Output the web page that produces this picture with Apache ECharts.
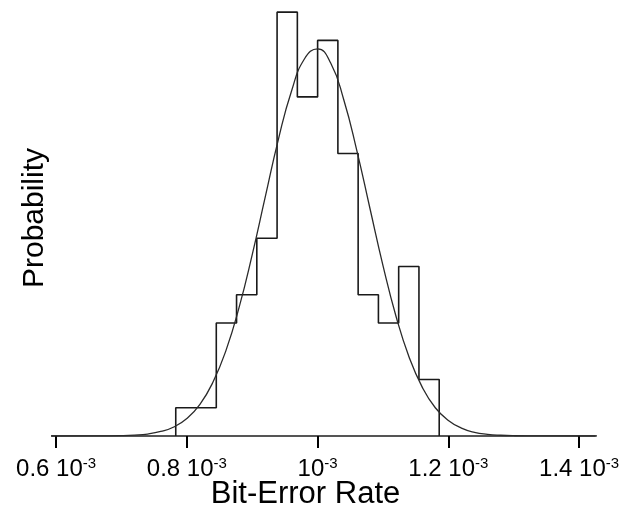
<!DOCTYPE html>
<html>
<head>
<meta charset="utf-8">
<script src="https://cdn.jsdelivr.net/npm/echarts@6/dist/echarts.min.js"></script>
<style>
  html, body { margin: 0; padding: 0; background: #fff; }
  #main { width: 630px; height: 508px; }
</style>
</head>
<body>
<div id="main"></div>
<script>
// x values in units of 10^-3
const tickValues = [0.6, 0.8, 1.0, 1.2, 1.4]
const tickLabels = ['0.6 10', '0.8 10', '10', '1.2 10', '1.4 10']

// histogram: first bin start, bin width, counts per bin
const binStart = 0.783
const binWidth = 0.031
const counts = [1, 1, 4, 5, 7, 15, 12, 14, 10, 5, 4, 6, 2]

// fitted curve
const curveX = [0.59, 0.66, 0.70, 0.72, 0.74, 0.76, 0.78, 0.80, 0.82, 0.84, 0.86, 0.88, 0.90, 0.92, 0.94, 0.96, 0.98,
  1.00, 1.02, 1.04, 1.06, 1.08, 1.10, 1.12, 1.14, 1.16, 1.18, 1.20, 1.22, 1.24, 1.26, 1.28, 1.30, 1.34, 1.43]
const curveY = [0, 0.002, 0.012, 0.03, 0.07, 0.16, 0.32, 0.62, 1.12, 1.91, 3.04, 4.56, 6.42, 8.47, 10.5, 12.2, 13.35,
  13.7, 13.2, 11.9, 10.1, 8.06, 6.03, 4.23, 2.79, 1.73, 1.0, 0.55, 0.28, 0.13, 0.06, 0.026, 0.01, 0.001, 0]

// step outline of the histogram
let histData = [[binStart, 0]]
counts.forEach((c, i) => {
  histData.push([binStart + i * binWidth, c])
})
histData.push([binStart + counts.length * binWidth, 0])

let curveData = curveX.map((x, i) => [x, curveY[i]])

var myChart = echarts.init(document.getElementById('main'))

let option = {
  animation: false,
  grid: { left: 52, right: 35, top: 0, bottom: 72, containLabel: false, outerBoundsMode: 'none' },
  xAxis: {
    type: 'value',
    min: 0.5937,
    max: 1.4243,
    name: 'Bit-Error Rate',
    nameLocation: 'middle',
    nameGap: 43,
    nameMoveOverlap: false,
    nameTextStyle: { fontFamily: 'Liberation Sans', fontSize: 31, color: '#000', padding: [0, 36, 0, 0] },
    axisLine: { lineStyle: { color: '#555', width: 2 } },
    axisTick: {
      customValues: tickValues,
      length: 12,
      lineStyle: { color: '#000', width: 2 }
    },
    axisLabel: {
      customValues: tickValues,
      margin: 20,
      formatter: function (v) {
        let i = tickValues.findIndex(t => Math.abs(t - v) < 1e-6)
        return '{a|' + tickLabels[i] + '}{s|-3}'
      },
      rich: {
        a: { fontFamily: 'Liberation Sans', fontSize: 24, color: '#000' },
        s: { fontFamily: 'Liberation Sans', fontSize: 15, color: '#000', padding: [0, 0, 11, 0] }
      }
    },
    splitLine: { show: false }
  },
  yAxis: {
    type: 'value',
    min: 0,
    max: 15.43,
    name: 'Probability',
    nameLocation: 'middle',
    nameRotate: 90,
    nameGap: 2,
    nameTextStyle: { fontFamily: 'Liberation Sans', fontSize: 30, color: '#000' },
    axisLine: { show: false },
    axisTick: { show: false },
    axisLabel: { show: false },
    splitLine: { show: false }
  },
  series: [
    {
      type: 'line',
      data: histData,
      step: 'end',
      symbol: 'none',
      lineStyle: { color: '#1a1a1a', width: 1.6 },
      z: 3
    },
    {
      type: 'line',
      data: curveData,
      smooth: true,
      symbol: 'none',
      lineStyle: { color: '#2a2a2a', width: 1.3 },
      z: 4
    }
  ]
}
myChart.setOption(option)
</script>
</body>
</html>
